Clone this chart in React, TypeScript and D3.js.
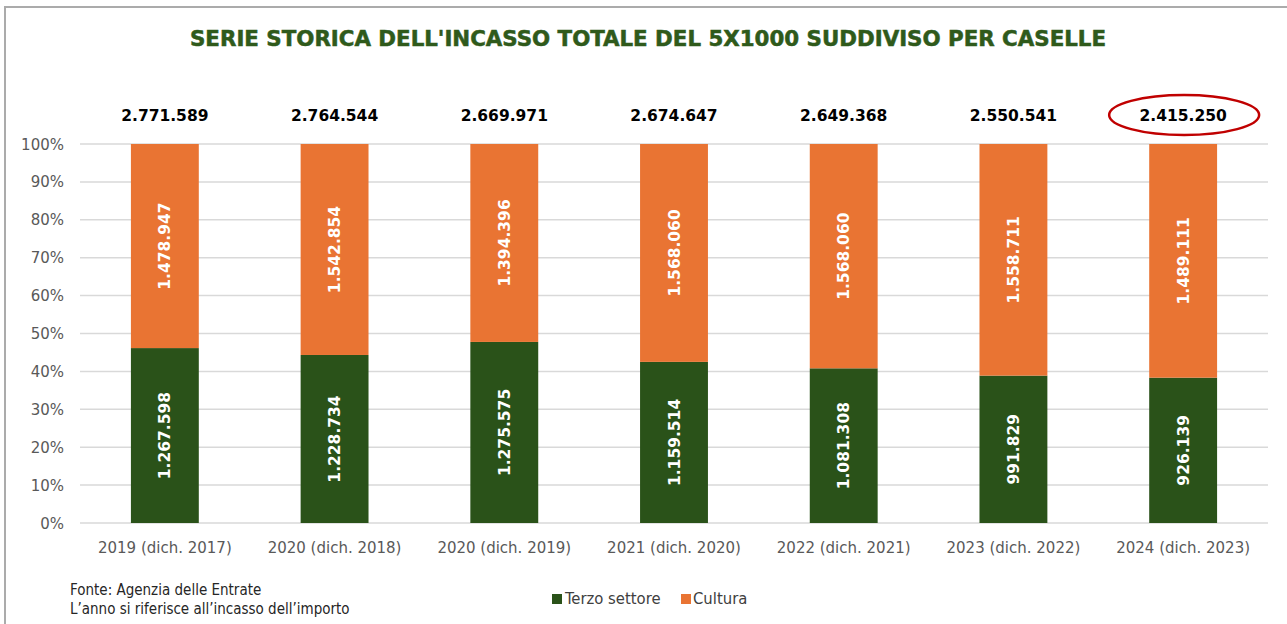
import React from "react";
import * as d3 from "d3";

const categories = [
  "2019 (dich. 2017)",
  "2020 (dich. 2018)",
  "2020 (dich. 2019)",
  "2021 (dich. 2020)",
  "2022 (dich. 2021)",
  "2023 (dich. 2022)",
  "2024 (dich. 2023)",
];
const terzoSettore = [1267598, 1228734, 1275575, 1159514, 1081308, 991829, 926139];
const cultura = [1478947, 1542854, 1394396, 1568060, 1568060, 1558711, 1489111];
const totals = [2771589, 2764544, 2669971, 2674647, 2649368, 2550541, 2415250];
const yTicks = [0, 0.1, 0.2, 0.3, 0.4, 0.5, 0.6, 0.7, 0.8, 0.9, 1];
const highlightIndex = 6;

const W = 1287;
const H = 624;
const GREEN = "#2A5219";
const ORANGE = "#E97433";
const TITLE_GREEN = "#2F5A1B";
const FONT = "'DejaVu Sans', Verdana, sans-serif";
const COND = "'DejaVu Sans Condensed', 'DejaVu Sans', sans-serif";

const loc = d3.formatLocale({ decimal: ",", thousands: ".", grouping: [3], currency: ["", "€"] });
const fmt = loc.format(",d");

export default function App() {
  const x = d3.scaleBand<string>().domain(categories).range([80, 1268]).paddingInner(0.6).paddingOuter(0.3);
  const y = d3.scaleLinear().domain([0, 1]).range([523, 144]);
  const pct = d3.format(".0%");

  const rows = categories.map((c, i) => {
    const sum = terzoSettore[i] + cultura[i];
    return { c, i, t: terzoSettore[i] / sum };
  });

  return (
    <svg width={W} height={H} style={{ position: "absolute", left: 0, top: 0, background: "#fff" }}>
      <rect x={5} y={7} width={W + 20} height={H + 20} fill="#fff" stroke="#ABABAB" strokeWidth={2} />
      <text x={648} y={46} textAnchor="middle" fontFamily={COND} fontWeight="bold" fontSize={22} fill={TITLE_GREEN} stroke={TITLE_GREEN} strokeWidth={0.5} textLength={916} lengthAdjust="spacingAndGlyphs">
        SERIE STORICA DELL'INCASSO TOTALE DEL 5X1000 SUDDIVISO PER CASELLE
      </text>
      {yTicks.map((t) => (
        <g key={t}>
          <line x1={80} x2={1268} y1={y(t)} y2={y(t)} stroke="#D9D9D9" strokeWidth={1.5} />
          <text x={64} y={y(t) + 5.5} textAnchor="end" fontFamily={FONT} fontSize={15} fill="#595959">
            {pct(t)}
          </text>
        </g>
      ))}
      {rows.map((r) => {
        const bx = x(r.c)!;
        const bw = x.bandwidth();
        const cx = bx + bw / 2;
        const yMid = y(r.t);
        return (
          <g key={r.c}>
            <rect x={bx} y={yMid} width={bw} height={y(0) - yMid} fill={GREEN} />
            <rect x={bx} y={y(1)} width={bw} height={yMid - y(1)} fill={ORANGE} />
            <text transform={`translate(${cx + 5.5},${(y(0) + yMid) / 2}) rotate(-90)`} textAnchor="middle" fontFamily={FONT} fontWeight="bold" fontSize={15.5} fill="#fff">
              {fmt(terzoSettore[r.i])}
            </text>
            <text transform={`translate(${cx + 5.5},${(y(1) + yMid) / 2}) rotate(-90)`} textAnchor="middle" fontFamily={FONT} fontWeight="bold" fontSize={15.5} fill="#fff">
              {fmt(cultura[r.i])}
            </text>
            <text x={cx} y={121} textAnchor="middle" fontFamily={FONT} fontWeight="bold" fontSize={15.5} fill="#000">
              {fmt(totals[r.i])}
            </text>
            <text x={cx} y={553} textAnchor="middle" fontFamily={FONT} fontSize={15} fill="#595959">
              {r.c}
            </text>
            {r.i === highlightIndex && (
              <ellipse cx={cx + 1} cy={115} rx={75} ry={20} fill="none" stroke="#C00000" strokeWidth={2.5} />
            )}
          </g>
        );
      })}
      <text x={70} y={595} fontFamily={COND} fontSize={15} fill="#262626">Fonte: Agenzia delle Entrate</text>
      <text x={70} y={614} fontFamily={COND} fontSize={15} fill="#262626">L’anno si riferisce all’incasso dell’importo</text>
      <rect x={552} y={594} width={10} height={10} fill={GREEN} />
      <text x={565} y={604} fontFamily={COND} fontSize={16.5} fill="#404040">Terzo settore</text>
      <rect x={681} y={594} width={10} height={10} fill={ORANGE} />
      <text x={693} y={604} fontFamily={COND} fontSize={16.5} fill="#404040">Cultura</text>
    </svg>
  );
}
